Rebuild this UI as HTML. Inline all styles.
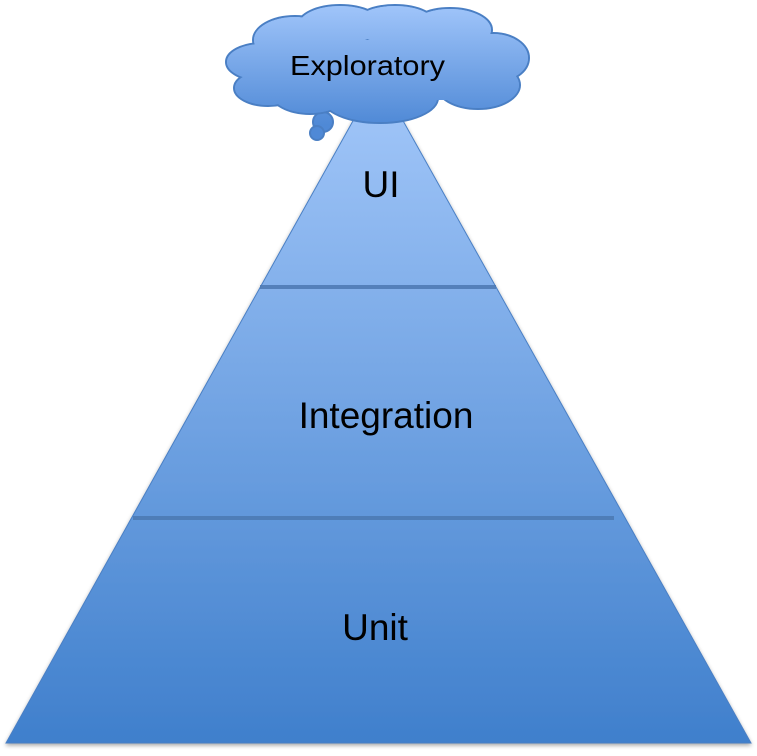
<!DOCTYPE html>
<html><head><meta charset="utf-8"><style>
html,body{margin:0;padding:0;background:#fff;}
svg{display:block;}
text{font-family:"Liberation Sans",Arial,sans-serif;fill:#000;}
</style></head><body>
<svg width="757" height="756" viewBox="0 0 757 756" xmlns="http://www.w3.org/2000/svg">
<defs>
<linearGradient id="pg" x1="0" y1="75" x2="0" y2="745" gradientUnits="userSpaceOnUse">
<stop offset="0" stop-color="#a4c8fa"/>
<stop offset="1" stop-color="#3f7fcc"/>
</linearGradient>
<linearGradient id="cg" x1="0" y1="5" x2="0" y2="125" gradientUnits="userSpaceOnUse">
<stop offset="0" stop-color="#a0c5fa"/>
<stop offset="1" stop-color="#4f89d6"/>
</linearGradient>
<filter id="sh" x="-5%" y="-5%" width="110%" height="110%"><feGaussianBlur in="SourceAlpha" stdDeviation="2"/><feOffset dy="2"/><feComponentTransfer><feFuncA type="linear" slope="0.35"/></feComponentTransfer><feMerge><feMergeNode/><feMergeNode in="SourceGraphic"/></feMerge></filter>
</defs>
<polygon points="378,76 751,743 6,743" fill="url(#pg)" stroke="#4a7fc4" stroke-width="1" filter="url(#sh)"/>
<rect x="260" y="285" width="236" height="4" fill="#4b78b2" opacity="0.85"/>
<rect x="133" y="516" width="481" height="4" fill="#4b78b2" opacity="0.85"/>
<text x="381" y="197" font-size="37" text-anchor="middle">UI</text>
<text x="386" y="428" font-size="37" text-anchor="middle">Integration</text>
<text x="375" y="640" font-size="37" text-anchor="middle">Unit</text>
<g stroke="#4a7fc4" stroke-width="2" fill="url(#cg)">
<circle cx="323" cy="122" r="10"/>
<circle cx="317" cy="133" r="7"/>
<ellipse cx="262" cy="62" rx="36" ry="19"/>
<ellipse cx="268" cy="88" rx="34" ry="18"/>
<ellipse cx="295" cy="40" rx="42" ry="24"/>
<ellipse cx="340" cy="25" rx="42" ry="20"/>
<ellipse cx="395" cy="25" rx="42" ry="20"/>
<ellipse cx="450" cy="30" rx="42" ry="22"/>
<ellipse cx="493" cy="58" rx="36" ry="25"/>
<ellipse cx="478" cy="85" rx="42" ry="24"/>
<ellipse cx="310" cy="92" rx="40" ry="22"/>
<ellipse cx="380" cy="98" rx="58" ry="25"/>
</g>
<g fill="url(#cg)">
<ellipse cx="262" cy="62" rx="35" ry="18"/>
<ellipse cx="268" cy="88" rx="33" ry="17"/>
<ellipse cx="295" cy="40" rx="41" ry="23"/>
<ellipse cx="340" cy="25" rx="41" ry="19"/>
<ellipse cx="395" cy="25" rx="41" ry="19"/>
<ellipse cx="450" cy="30" rx="41" ry="21"/>
<ellipse cx="493" cy="58" rx="35" ry="24"/>
<ellipse cx="478" cy="85" rx="41" ry="23"/>
<ellipse cx="310" cy="92" rx="39" ry="21"/>
<ellipse cx="380" cy="98" rx="57" ry="24"/>
<rect x="270" y="40" width="220" height="60"/>
</g>
<text x="290" y="75" font-size="28" textLength="155" lengthAdjust="spacingAndGlyphs">Exploratory</text>
</svg>
</body></html>
